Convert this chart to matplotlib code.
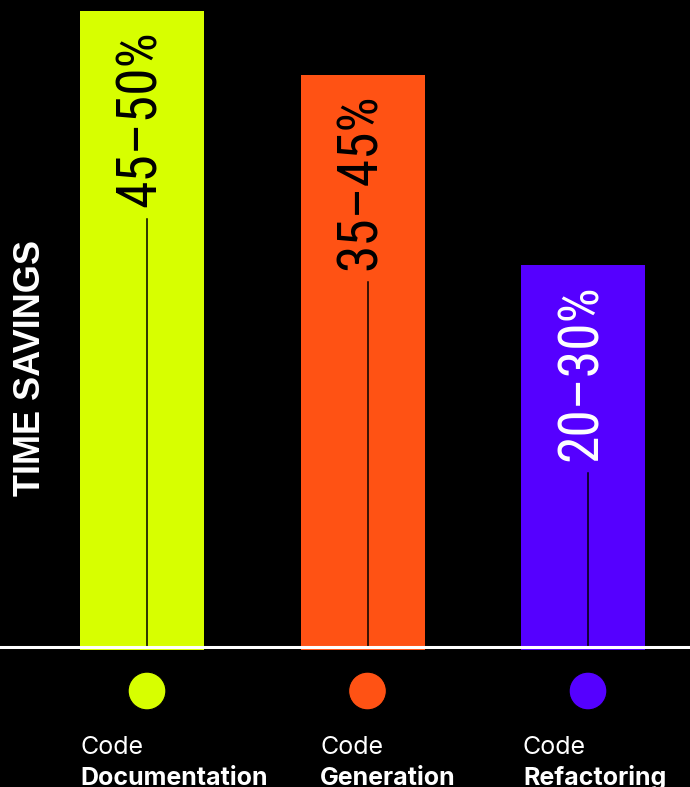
import numpy as np
import matplotlib
matplotlib.use("Agg")
import matplotlib.pyplot as plt
from matplotlib import font_manager as fm

# data
categories = ["Documentation", "Generation", "Refactoring"]
low = [45, 35, 20]
high = [50, 45, 30]
colors = ["#D7FF00", "#FF5214", "#5500FF"]
text_colors = ["black", "black", "white"]

W, H, DPI = 690, 787, 100
BASE_PX = 647          # pixel row of the baseline (from top)
TOP_PX = 11            # pixel row where the tallest bar ends
PX_PER_UNIT = (BASE_PX - TOP_PX) / max(high)
STEP_PX = 220.5        # distance between bar centres
X0_PX = 142            # centre of first bar

# pick a narrow face for the big percentage labels
names = {f.name for f in fm.fontManager.ttflist}
num_font = "DejaVu Sans Mono"
for cand in ["Roboto Condensed", "Liberation Sans Narrow", "Open Sans Condensed"]:
    if cand in names:
        num_font = cand
        break
label_font = "Inter" if "Inter" in names else "Liberation Sans"

fig = plt.figure(figsize=(W / DPI, H / DPI), dpi=DPI, facecolor="black")
ax = fig.add_axes([0, 0, 1, 1], facecolor="black")
ax.set_xlim(-X0_PX / STEP_PX, (W - X0_PX) / STEP_PX)
ax.set_ylim(-(H - BASE_PX) / PX_PER_UNIT, max(high) + TOP_PX / PX_PER_UNIT)
ax.axis("off")


def py(px):
    # pixel row (from top) -> data y
    return (BASE_PX - px) / PX_PER_UNIT


x = np.arange(len(categories))
bar_w = 124 / STEP_PX
dip = 3 / PX_PER_UNIT
ax.bar(x, np.array(high) + dip, bottom=-dip, width=bar_w, color=colors, zorder=1)
ax.axhline(0, color="white", lw=2.2, zorder=3)

off = 5 / STEP_PX
labels = []
for i in range(len(x)):
    t = ax.annotate(f"{low[i]}\u2013{high[i]}%", xy=(x[i], high[i]),
                    xytext=(-2, -19), textcoords="offset pixels",
                    rotation=90, ha="center", va="top",
                    fontsize=40, family=num_font, color=text_colors[i], zorder=4)
    labels.append(t)

fig.canvas.draw()
r = fig.canvas.get_renderer()
inv = ax.transData.inverted()
for i, t in enumerate(labels):
    bb = t.get_window_extent(r)
    y_top = inv.transform((0, bb.y0 - 12))[1]
    ax.plot([x[i] + off, x[i] + off], [0, y_top], color="black", lw=1.1, zorder=2)

ax.scatter(x + off, [py(691)] * len(x), s=740, c=colors, edgecolors="black",
           linewidths=0.8, zorder=4, clip_on=False)

name_x = [80, 320, 523]
for i, name in enumerate(categories):
    fig.text(name_x[i] / W, 1 - 754 / H, "Code", color="white", fontsize=18,
             family=label_font, ha="left", va="baseline")
    fig.text(name_x[i] / W, 1 - 785 / H, name, color="white", fontsize=18,
             family=label_font, fontweight="bold", ha="left", va="baseline")

fig.text(31 / W, 1 - 368 / H, "TIME SAVINGS", color="white", fontsize=26,
         family="Liberation Sans", fontweight="bold", rotation=90,
         ha="center", va="center")

fig.savefig("out.png", dpi=DPI, facecolor="black")
